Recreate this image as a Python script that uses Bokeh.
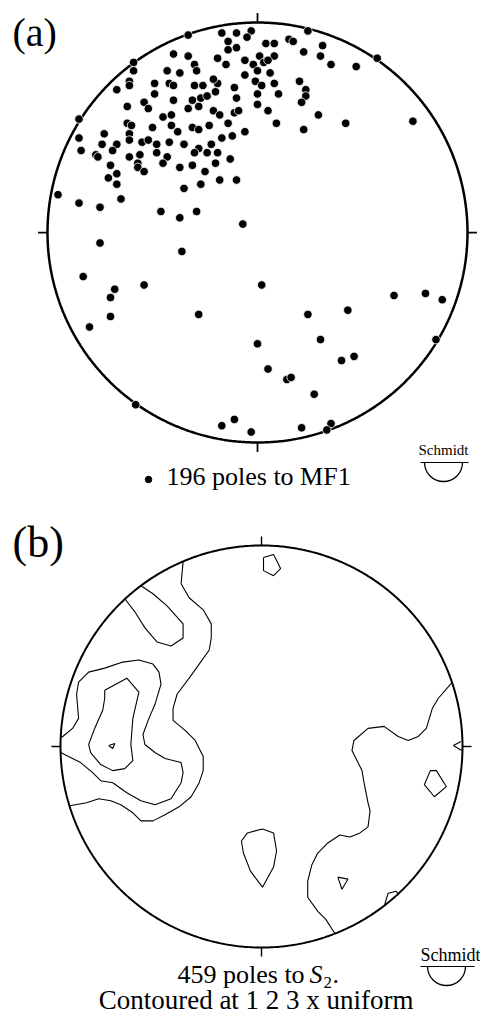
import numpy as np
from bokeh.plotting import figure
from bokeh.layouts import column
from bokeh.models import Range1d
from bokeh.core.properties import value
from bokeh.embed import file_html
from bokeh.resources import INLINE

SERIF = "Liberation Serif"

# ---------------------------------------------------------------------------
# (a) 196 poles to MF1 - lower-hemisphere Schmidt (equal-area) net coordinates,
#     east / north, primitive circle radius = 100
# ---------------------------------------------------------------------------
mf1_east = [
    -33, -17, -10, -14, -14, -10, -40, -33, -19, -15, -59, -30, -59, -43, -37, -29,
    -61, -61, -49, -42, -40, -30, -26, -19, -21, -67, -49, -20, -11, -40, -31, -27,
    -24, -10, -54, -52, -62, -33, -28, -21, -18, -11, -9, -85, -45, -41, -62, -60,
    -41, -31, -28, -23, -14, -50, -73, -61, -38, -85, -74, -67, -61, -55, -52, -48,
    -42, -35, -28, -22, -17, -12, -84, -69, -48, -30, -24, -19, -77, -76, -61, -56,
    -43, -13, -70, -57, -57, -45, -37, -31, -20, -67, -71, -54, -25, -67, -27, -18,
    -10, -35, -95, -85, -75, -65, -46, -37, -29,
    -3, -5, 24, 4, 8, 15, 17, 31, 22, 30, 1, 8, -6, -2, 3, 5, 35, 47, 57, -6, 0, 6,
    -1, 8, 20, 2, 23, 23, 0, 10, 21, 0, 5, 29, 9, 42, 74, -6, 22, -7,
    -75, -36, -83, -68, -70, -54, -28, -70, -80, -58, -11, -17,
    2, 65, 80, 88, 24, 43, 0, 30, 85, 5, 14, 16, 40, 46, 27, -3, 21, 35, 33,
]
mf1_north = [
    94, 95, 95, 91, 87, 88, 85, 84, 83, 80, 81, 80, 77, 77, 76, 77,
    72, 70, 71, 71, 70, 70, 70, 71, 73, 68, 66, 67, 69, 63, 63, 64,
    65, 64, 62, 59, 60, 59, 60, 58, 56, 57, 58, 54, 55, 56, 52, 51,
    51, 50, 49, 51, 52, 50, 47, 47, 48, 45, 42, 42, 44, 43, 44, 42,
    43, 42, 40, 42, 45, 46, 39, 39, 38, 38, 38, 38, 37, 36, 36, 37,
    36, 35, 32, 33, 31, 33, 31, 32, 33, 28, 26, 29, 29, 23, 23, 25,
    25, 21, 18, 14, 12, 16, 10, 7, 10,
    96, 93, 96, 90, 90, 92, 91, 89, 86, 84, 84, 84, 82, 80, 81, 82, 80, 79, 83, 75, 77, 76,
    72, 71, 72, 70, 68, 65, 66, 66, 62, 61, 58, 56, 52, 52, 53, 48, 49, 4,
    -5, -9, -21, -27, -31, -25, -39, -40, -45, -82, -89, -92,
    -25, -30, -29, -32, -39, -37, -53, -51, -51, -65, -70, -69, -61, -59, -77, -95, -93, -91, -94,
]

# ---------------------------------------------------------------------------
# (b) 459 poles to S2 - density contours at 1, 2 and 3 x uniform
# ---------------------------------------------------------------------------
# 1 x uniform
c1_west_e = [-39, -40, -36, -29, -25, -25, -26, -31, -36, -42, -44, -44, -38, -33, -29, -29,
             -31, -35, -41, -48, -54, -60, -64, -70, -75, -81, -87, -95.5]
c1_west_n = [92, 81, 74, 68, 61, 54, 48, 41, 34, 26, 19, 13, 8, 3, -5, -12,
             -18, -25, -30, -34, -37, -37, -33, -29, -27, -26, -28, -29.5]
c1_nw_e = [-60, -54, -47, -39, -39, -45, -52, -58, -63, -68]
c1_nw_n = [80, 76, 70, 61, 54, 50, 52, 59, 67, 73.5]
c1_east_e = [94.5, 88, 85, 82, 78, 73, 68, 61, 53, 46, 45, 48, 50, 51, 53, 54, 53, 49, 44, 39,
             33, 28, 25, 23, 23, 28, 32, 36.5]
c1_east_n = [31.5, 24, 19, 9, 5, 3, 5, 10, 9, 3, -2, -8, -12, -18, -28, -32, -40, -43, -45, -44,
             -48, -53, -59, -67, -75, -82, -86, -93]
c1_rim_e_e = [99.2, 95.5, 99.6]
c1_rim_e_n = [2.5, 0.5, -2]
c1_se_e = [81, 84, 87, 92, 86]
c1_se_n = [-19, -12, -12, -20, -25]
c1_ssw_e = [-10, -7, 0.5, 6, 7.5, 6, 0.5, -5.5, -9]
c1_ssw_n = [-47, -43, -41, -43, -52, -60, -70, -62, -53]
c1_n_e = [1, 6, 9.5, 6, 1]
c1_n_n = [94, 95.5, 88.5, 85, 87.5]
c1_s_e = [38, 43, 40]
c1_s_n = [-65, -66, -71]
c1_rim_se_e = [61, 63, 67, 68]
c1_rim_se_n = [-79.5, -73, -72, -73.3]
# 2 x uniform
c2_west_e = [-99.5, -94, -91, -92, -91, -86, -78, -69, -61, -54, -51, -50, -53, -56, -59, -58,
             -53, -48, -40, -39, -40, -45, -53, -60, -67, -74, -80, -84, -90, -96, -99.9]
c2_west_n = [4.5, 9, 14, 26, 32, 37, 39, 42, 43, 41, 37, 31, 21, 14, 6, 1,
             -3, -6, -8, -13, -18, -26, -29, -27, -23, -18, -17, -13, -8, -5, -3]
# 3 x uniform
c3_west_e = [-78, -67, -61, -64, -65, -64, -68, -74, -80, -85, -86, -83, -79, -78]
c3_west_n = [28, 34, 27, 14, 1, -7, -11, -12, -9, -3, 1, 9, 18, 24]
c3_peak_e = [-76, -73, -74]
c3_peak_n = [0.5, 1.5, -1]

contours = [
    (c1_west_e, c1_west_n, False),
    (c1_nw_e, c1_nw_n, False),
    (c1_east_e, c1_east_n, False),
    (c1_rim_e_e, c1_rim_e_n, False),
    (c1_se_e, c1_se_n, True),
    (c1_ssw_e, c1_ssw_n, True),
    (c1_n_e, c1_n_n, True),
    (c1_s_e, c1_s_n, True),
    (c1_rim_se_e, c1_rim_se_n, False),
    (c2_west_e, c2_west_n, False),
    (c3_west_e, c3_west_n, True),
    (c3_peak_e, c3_peak_n, True),
]

W = 480


class Panel:
    """A net drawn in its own figure; cx, cy = net centre in panel pixels."""

    def __init__(self, height, cx, cy, scale, top):
        self.cx, self.cy, self.s, self.top = cx, cy, scale, top
        self.p = figure(
            width=W, height=height,
            x_range=Range1d(-cx / scale, (W - cx) / scale),
            y_range=Range1d(-(height - cy) / scale, cy / scale),
            output_backend="svg", toolbar_location=None, min_border=0,
            x_axis_location=None, y_axis_location=None,
        )
        self.p.grid.visible = False
        self.p.outline_line_color = None
        self.p.background_fill_color = "white"
        self.p.border_fill_color = "white"

    def at(self, xpx, ypx):
        # page pixel position -> net units (for annotation placement)
        return (xpx - self.cx) / self.s, (self.cy - (ypx - self.top)) / self.s

    def primitive(self, lw):
        t = np.linspace(0, 2 * np.pi, 721)
        self.p.line(100 * np.cos(t), 100 * np.sin(t), line_color="black", line_width=lw)
        tick = 4.5
        self.p.segment(x0=[0, 100, 0, -100], y0=[100, 0, -100, 0],
                       x1=[0, 100 + tick, 0, -100 - tick], y1=[100 + tick, 0, -100 - tick, 0],
                       line_color="black", line_width=lw * 0.7)

    def label(self, xpx, base_px, text, size, style="normal", align="left"):
        # anchor on the middle of the em box, placed from the wanted baseline
        x, y = self.at(xpx, base_px - 0.34 * size)
        self.p.text(x=[x], y=[y], text=[text], text_font=value(SERIF),
                    text_font_size=value(f"{size}px"), text_font_style=style,
                    text_align=align, text_baseline="middle", text_color="black")

    def schmidt(self, xpx, ypx, size, ux0, ux1, uy, r_px):
        self.label(xpx, ypx, "Schmidt", size)
        x0, y0 = self.at(ux0, uy)
        x1, _ = self.at(ux1, uy)
        self.p.segment(x0=[x0], y0=[y0], x1=[x1], y1=[y0], line_color="black", line_width=1.2)
        cx, _ = self.at((ux0 + ux1) / 2 - 1, uy)
        self.p.arc(x=[cx], y=[y0], radius=r_px / self.s, start_angle=np.pi,
                   end_angle=2 * np.pi, line_color="black", line_width=1.3)


# ---- panel (a) ----
a = Panel(500, 257, 232, 2.1, 0)
a.primitive(2.5)
a.p.scatter(mf1_east, mf1_north, size=8.5, marker="circle",
            fill_color="black", line_color="white", line_width=0.8)
a.label(12, 46, "(a)", 40)
lx, ly = a.at(148, 479)
a.p.scatter([lx], [ly], size=6.5, fill_color="black", line_color="black")
a.label(166, 485, "196 poles to MF1", 26)
a.schmidt(418, 455, 15, 420, 468, 462, 19)

# ---- panel (b) ----
b = Panel(516, 261, 246, 2.01, 500)
b.primitive(2.0)
xs, ys = [], []
for e, n, closed in contours:
    e, n = list(e), list(n)
    if closed:
        e.append(e[0])
        n.append(n[0])
    xs.append(e)
    ys.append(n)
b.p.multi_line(xs, ys, line_color="black", line_width=1.1)
b.label(12, 557, "(b)", 44)
b.label(177, 983, "459 poles to", 26)
b.label(309, 983, "S", 26, style="italic")
b.label(323, 988, "2", 17)
b.label(332, 983, ".", 26)
b.label(259, 1009, "Contoured at 1 2 3  x uniform", 27, align="center")
b.schmidt(420, 961, 18, 420, 474, 966, 19)

layout = column(a.p, b.p, spacing=0)
open("out.html", "w").write(file_html(layout, INLINE))
